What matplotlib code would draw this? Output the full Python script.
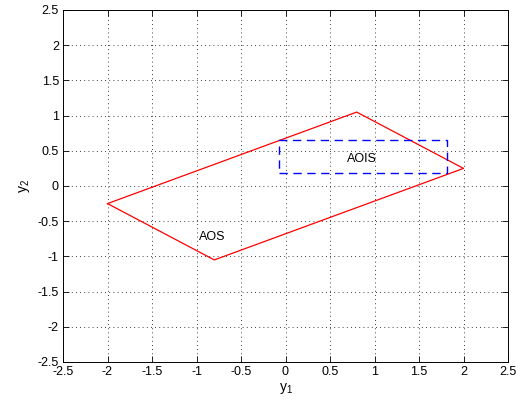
import matplotlib
matplotlib.use("Agg")
import matplotlib.pyplot as plt
import numpy as np

# AOS parallelogram vertices
aos_y1 = [-2.0, 0.8, 2.0, -0.8, -2.0]
aos_y2 = [-0.25, 1.05, 0.25, -1.05, -0.25]

# AOIS box
aois_y1 = [-0.07, 1.82, 1.82, -0.07, -0.07]
aois_y2 = [0.18, 0.18, 0.65, 0.65, 0.18]

ticks = np.arange(-2.5, 2.51, 0.5)
tick_labels = ['-2.5', '-2', '-1.5', '-1', '-0.5', '0', '0.5', '1', '1.5', '2', '2.5']

plt.rcParams['font.family'] = ['Liberation Sans', 'DejaVu Sans']

fig = plt.figure(figsize=(5.21, 4.08), dpi=100)
ax = fig.add_axes([63 / 521, 1 - 362 / 408, 445 / 521, 352 / 408])

ax.plot(aos_y1, aos_y2, color='red', lw=0.9)
ax.plot(aois_y1, aois_y2, color='blue', lw=1.0, ls=(0, (6, 4)))

ax.text(-0.97, -0.72, 'AOS', fontsize=9, va='center', ha='left')
ax.text(0.69, 0.38, 'AOIS', fontsize=9, va='center', ha='left')

ax.set_xlim(-2.5, 2.5)
ax.set_ylim(-2.5, 2.5)
ax.set_xticks(ticks)
ax.set_yticks(ticks)
ax.set_xticklabels(tick_labels, fontsize=9)
ax.set_yticklabels(tick_labels, fontsize=9)
ax.tick_params(direction='in', length=4, width=0.6, pad=3)
ax.tick_params(top=True, right=True)
ax.grid(True, color='black', ls=(0, (1, 4)), lw=0.6)
for s in ax.spines.values():
    s.set_linewidth(0.7)

ax.set_xlabel('$\\mathregular{y_1}$', fontsize=10, labelpad=2)
ax.set_ylabel('$\\mathregular{y_2}$', fontsize=10, labelpad=4)

fig.savefig('out.png', dpi=100, facecolor='white')
